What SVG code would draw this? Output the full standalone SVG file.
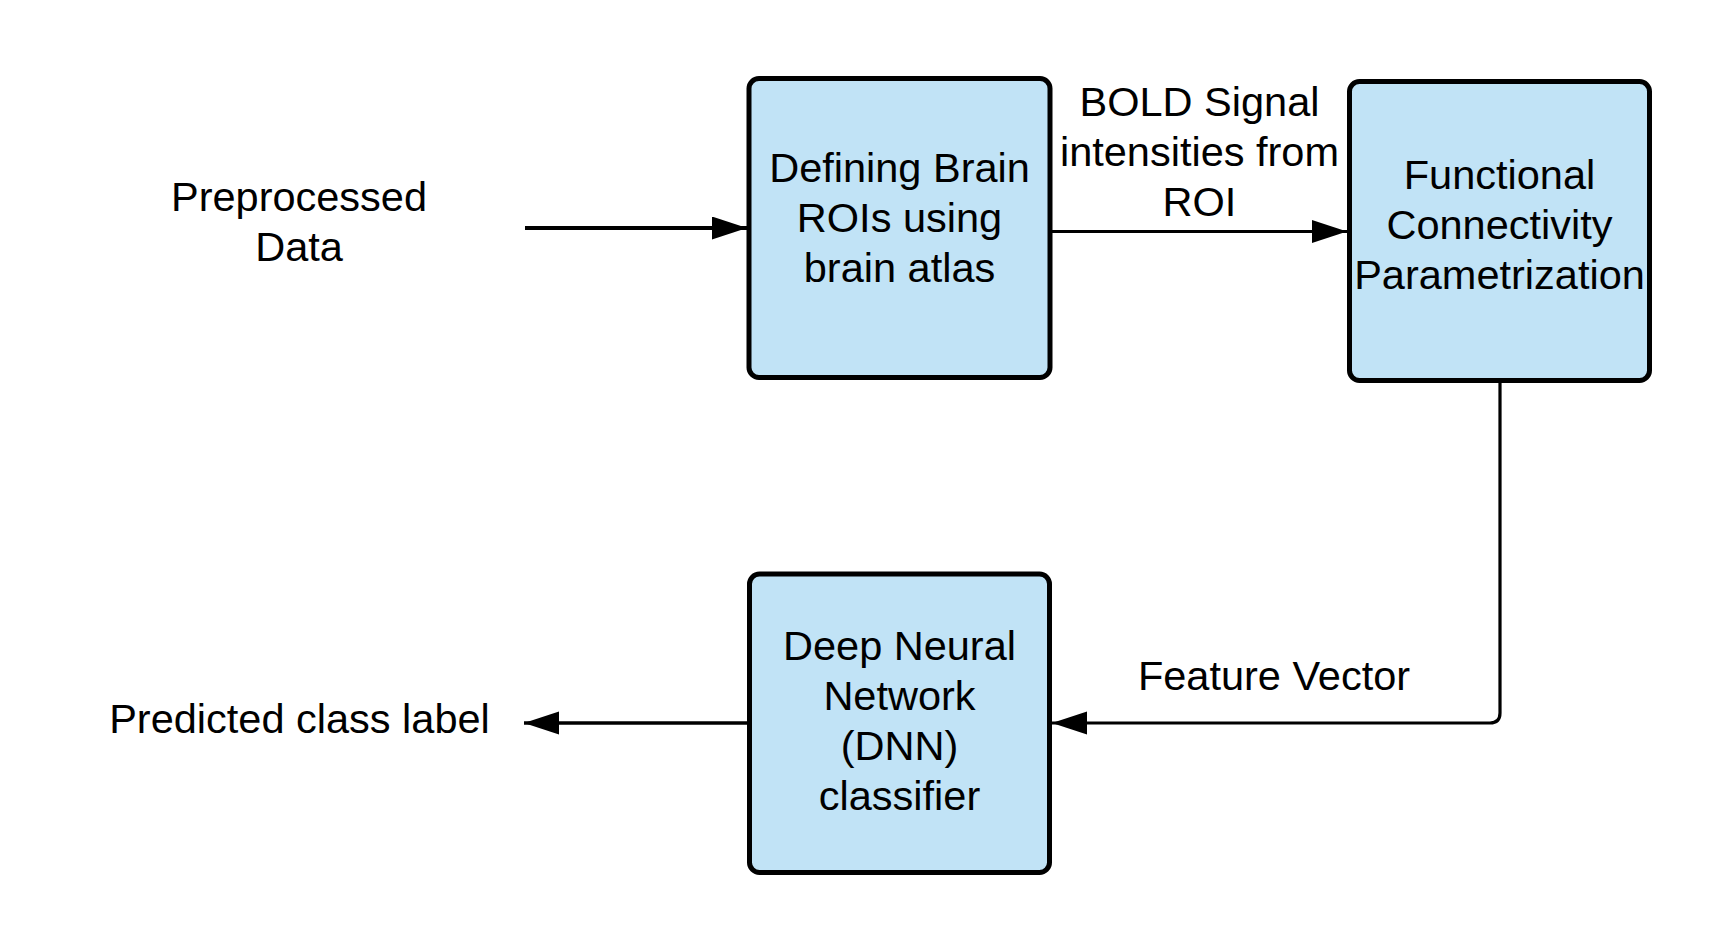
<svg xmlns="http://www.w3.org/2000/svg" width="1725" height="949" viewBox="0 0 1725 949">
<style>
  .box { fill: #C1E3F6; stroke: #000; stroke-width: 5; }
  .t { font-family: "Liberation Sans", Arial, sans-serif; font-size: 41.5px; fill: #000; text-anchor: middle; }
  .c { fill: none; stroke: #000; }
</style>
<defs>
  <marker id="ah" markerUnits="userSpaceOnUse" markerWidth="36" markerHeight="24" refX="35" refY="11.5" orient="auto">
    <path d="M0,0 L35,11.5 L0,23 Z" fill="#000"/>
  </marker>
</defs>
<rect width="1725" height="949" fill="#fff"/>
<g id="connectors">
  <line class="c" x1="525" y1="228" x2="747" y2="228" stroke-width="4" marker-end="url(#ah)"/>
  <line class="c" x1="1052" y1="231.5" x2="1347" y2="231.5" stroke-width="3.2" marker-end="url(#ah)"/>
  <path class="c" d="M1500,383 L1500,713 Q1500,723 1490,723 L1052,723" stroke-width="3.2" marker-end="url(#ah)"/>
  <line class="c" x1="747" y1="723" x2="524" y2="723" stroke-width="3.6" marker-end="url(#ah)"/>
</g>
<g id="label-preprocessed">
  <text class="t" x="299" y="211">Preprocessed</text>
  <text class="t" x="299" y="261">Data</text>
</g>
<g id="node-roi">
  <rect class="box" x="749" y="78.5" width="301" height="299" rx="10"/>
  <text class="t" x="899.5" y="182">Defining Brain</text>
  <text class="t" x="899.5" y="232">ROIs using</text>
  <text class="t" x="899.5" y="282">brain atlas</text>
</g>
<g id="label-bold">
  <text class="t" x="1199.5" y="116">BOLD Signal</text>
  <text class="t" x="1199.5" y="166">intensities from</text>
  <text class="t" x="1199.5" y="216">ROI</text>
</g>
<g id="node-fc">
  <rect class="box" x="1349.5" y="81.5" width="300" height="299" rx="10"/>
  <text class="t" x="1499.5" y="189">Functional</text>
  <text class="t" x="1499.5" y="239">Connectivity</text>
  <text class="t" x="1499.5" y="289">Parametrization</text>
</g>
<g id="label-feature">
  <text class="t" x="1274" y="690">Feature Vector</text>
</g>
<g id="node-dnn">
  <rect class="box" x="749.5" y="574" width="300" height="298.5" rx="10"/>
  <text class="t" x="899.5" y="660">Deep Neural</text>
  <text class="t" x="899.5" y="710">Network</text>
  <text class="t" x="899.5" y="760">(DNN)</text>
  <text class="t" x="899.5" y="810">classifier</text>
</g>
<g id="label-predicted">
  <text class="t" x="299.5" y="733">Predicted class label</text>
</g>
</svg>
